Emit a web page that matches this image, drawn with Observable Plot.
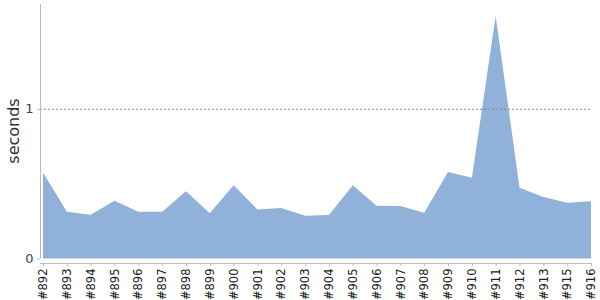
<!DOCTYPE html>
<html>
<head>
<meta charset="utf-8">
<script src="https://cdn.jsdelivr.net/npm/d3@7"></script>
<script src="https://cdn.jsdelivr.net/npm/@observablehq/plot@0.6"></script>
<style>
  html, body { margin: 0; padding: 0; background: #fff; }
</style>
</head>
<body>
<div id="chart"></div>
<script>
const builds = ["#892","#893","#894","#895","#896","#897","#898","#899","#900","#901","#902","#903","#904","#905","#906","#907","#908","#909","#910","#911","#912","#913","#915","#916"];
const seconds = [0.574,0.313,0.293,0.385,0.313,0.313,0.449,0.302,0.49,0.327,0.338,0.286,0.291,0.49,0.353,0.351,0.306,0.577,0.54,1.62,0.472,0.41,0.373,0.383];
const yTicks = [0, 1];
const yMax = 1.7;

const data = builds.map((b, i) => ({i, build: b, seconds: seconds[i]}));
const idx = builds.map((b, i) => i);

const chart = Plot.plot({
  width: 600,
  height: 300,
  marginLeft: 40,
  marginRight: 9,
  marginTop: 4,
  marginBottom: 37,
  style: {fontFamily: "DejaVu Sans", color: "#444", background: "#fff"},
  x: {type: "linear", domain: [0, builds.length - 1], insetLeft: 3},
  y: {domain: [0, yMax], insetBottom: 4.5},
  marks: [
    Plot.areaY(data, {x: "i", y: "seconds", fill: "#8fb1da"}),
    Plot.ruleY([1], {stroke: "#888", strokeDasharray: "2,2", strokeWidth: 1}),
    Plot.ruleX([0], {dx: -3, y1: 0, y2: yMax, stroke: "#bbb"}),
    Plot.frame({anchor: "bottom", stroke: "#bbb"}),
    Plot.axisY({ticks: yTicks, tickFormat: d => String(d), tickSize: 3, tickPadding: 4, fontSize: 13, label: null, stroke: "#bbb", color: "#444"}),
    Plot.axisX({ticks: idx, tickFormat: i => builds[i], tickRotate: -90, tickSize: 3, tickPadding: 2, fontSize: 11.5, label: null, stroke: "#bbb", color: "#222"}),
    Plot.text(["seconds"], {frameAnchor: "left", textAnchor: "middle", rotate: -90, dx: -27, dy: -3, fontSize: 16, fill: "#333"})
  ]
});
document.getElementById("chart").appendChild(chart);
</script>
</body>
</html>
